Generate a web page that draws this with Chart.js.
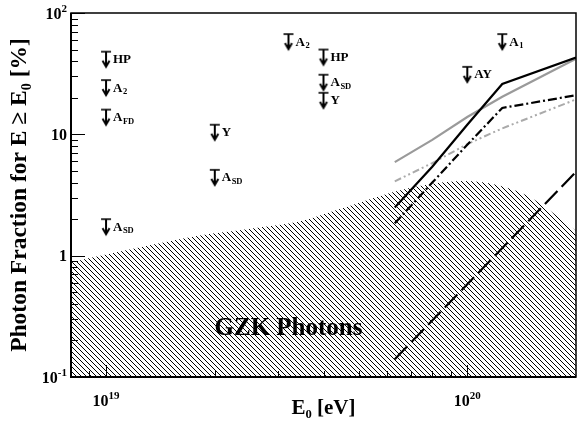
<!DOCTYPE html>
<html>
<head>
<meta charset="utf-8">
<script src="https://cdn.jsdelivr.net/npm/chart.js@4"></script>
<style>
  html, body { margin: 0; padding: 0; background: #fff; }
</style>
</head>
<body>
<canvas id="photonChart" width="583" height="421"></canvas>
<script>
// upper limits on the photon fraction (bar = limit, arrow points down)
const limitEnergy   = [1e19, 1e19, 1e19, 1e19, 2e19, 2e19, 3.2e19, 4e19, 4e19, 4e19, 1e20, 1.25e20];
const limitFraction = [48, 28, 16, 2.0, 12, 5.1, 67, 50, 31, 22, 36, 67];
const limitName     = ['HP', 'A', 'A', 'A', 'Y', 'A', 'A', 'HP', 'A', 'Y', 'AY', 'A'];
const limitSub      = ['', '2', 'FD', 'SD', '', 'SD', '2', '', 'SD', '', '', '1'];

// top-down model predictions
const modelEnergy   = [6.3e19, 8e19, 1e20, 1.25e20, 2e20];
const solidBlack    = [2.5, 5.4, 12, 26, 43];
const dashDotBlack  = [1.85, 4.0, 8.2, 16.5, 21];
const solidGray     = [5.9, 9.0, 13.9, 20.4, 42];
const dashDotGray   = [4.1, 5.8, 8.3, 11.2, 19.4];
const longDashEnergy = [6.3e19, 2e20];
const longDashBlack  = [0.14, 4.9];

// GZK photon band (upper edge)
const gzkEnergy   = [8e18, 1e19, 1.31e19, 1.8e19, 2.48e19, 3.4e19, 4.2e19, 5.1e19, 6.4e19, 7.9e19, 9.8e19, 1.21e20, 1.49e20, 1.71e20, 2e20];
const gzkFraction = [0.88, 1.02, 1.21, 1.46, 1.66, 1.90, 2.30, 2.77, 3.41, 3.89, 4.12, 3.82, 3.05, 2.30, 1.60];

// axis ticks: mantissa + exponent
const xTickValues = [1e19, 1e20];
const xTickBase   = ['10', '10'];
const xTickExp    = ['19', '20'];
const yTickValues = [0.1, 1, 10, 100];
const yTickBase   = ['10', '1', '10', '10'];
const yTickExp    = ['-1', '', '', '2'];

const SERIF = '"Liberation Serif", "Times New Roman", serif';
Chart.defaults.font.family = SERIF;
Chart.defaults.color = '#000';

const pts = (xs, ys) => xs.map((x, i) => ({ x: x, y: ys[i] }));

const canvas = document.getElementById('photonChart');
const ctx = canvas.getContext('2d');

function hatchPattern() {
  const n = 5;
  const tile = document.createElement('canvas');
  tile.width = n; tile.height = n;
  const g = tile.getContext('2d');
  g.fillStyle = '#000';
  for (let i = 0; i < n; i++) g.fillRect(i, i, 1, 1);
  return ctx.createPattern(tile, 'repeat');
}

function arrowGlyph() {
  const c = document.createElement('canvas');
  c.width = 14; c.height = 36;
  const g = c.getContext('2d');
  g.strokeStyle = '#000';
  g.lineWidth = 1.6;
  g.beginPath(); g.moveTo(2, 18); g.lineTo(12, 18); g.stroke();
  g.lineWidth = 2;
  g.beginPath(); g.moveTo(7, 18); g.lineTo(7, 33); g.stroke();
  g.beginPath(); g.moveTo(3.5, 27); g.lineTo(7, 33); g.lineTo(10.5, 27); g.stroke();
  return c;
}

function minorTicks(min, max) {
  const out = [];
  for (let d = 1e-2; d <= 1e21; d *= 10) {
    for (let m = 2; m <= 9; m++) {
      const v = m * d;
      if (v > min * 1.0001 && v < max * 0.9999) out.push(v);
    }
  }
  return out;
}

// frame, inward ticks and power-of-ten labels
const frameTicks = {
  id: 'frameTicks',
  afterDatasetsDraw(chart) {
    const { ctx, chartArea: a, scales: { x, y } } = chart;
    ctx.save();
    ctx.strokeStyle = '#000';
    ctx.lineWidth = 1;
    ctx.beginPath();
    minorTicks(x.min, x.max).forEach(v => {
      const px = Math.round(x.getPixelForValue(v)) + 0.5;
      ctx.moveTo(px, a.bottom); ctx.lineTo(px, a.bottom - 6);
    });
    xTickValues.forEach(v => {
      const px = Math.round(x.getPixelForValue(v)) + 0.5;
      ctx.moveTo(px, a.bottom); ctx.lineTo(px, a.bottom - 12);
    });
    minorTicks(y.min, y.max).forEach(v => {
      const py = Math.round(y.getPixelForValue(v)) + 0.5;
      ctx.moveTo(a.left, py); ctx.lineTo(a.left + 7, py);
    });
    yTickValues.forEach(v => {
      const py = Math.round(y.getPixelForValue(v)) + 0.5;
      ctx.moveTo(a.left, py); ctx.lineTo(a.left + 14, py);
    });
    ctx.stroke();
    ctx.lineWidth = 1.5;
    ctx.strokeRect(a.left, a.top, a.right - a.left, a.bottom - a.top);
    ctx.lineWidth = 2;
    ctx.beginPath();
    ctx.moveTo(a.left, a.top); ctx.lineTo(a.left, a.bottom); ctx.lineTo(a.right, a.bottom);
    ctx.stroke();

    const baseFont = 'bold 16px ' + SERIF;
    const expFont = 'bold 11px ' + SERIF;
    ctx.fillStyle = '#000';
    ctx.textBaseline = 'alphabetic';
    ctx.textAlign = 'left';
    // y labels, right edge at 4px from the axis
    yTickValues.forEach((v, i) => {
      const py = y.getPixelForValue(v);
      ctx.font = expFont;
      const we = yTickExp[i] ? ctx.measureText(yTickExp[i]).width : 0;
      ctx.font = baseFont;
      const wb = ctx.measureText(yTickBase[i]).width;
      const x0 = a.left - 4 - we - wb;
      ctx.fillText(yTickBase[i], x0, py + 5.5);
      if (yTickExp[i]) {
        ctx.font = expFont;
        ctx.fillText(yTickExp[i], x0 + wb, py - 1.5);
      }
    });
    // x labels, centred under the tick
    xTickValues.forEach((v, i) => {
      const px = x.getPixelForValue(v);
      ctx.font = expFont;
      const we = ctx.measureText(xTickExp[i]).width;
      ctx.font = baseFont;
      const wb = ctx.measureText(xTickBase[i]).width;
      const x0 = px - (wb + we) / 2;
      ctx.fillText(xTickBase[i], x0, a.bottom + 29);
      ctx.font = expFont;
      ctx.fillText(xTickExp[i], x0 + wb, a.bottom + 22);
    });
    ctx.restore();
  }
};

// experiment names beside the limit arrows, and the band label
const annotations = {
  id: 'annotations',
  afterDatasetsDraw(chart) {
    const { ctx, scales: { x, y } } = chart;
    ctx.save();
    ctx.fillStyle = '#000';
    ctx.textAlign = 'left';
    ctx.textBaseline = 'alphabetic';
    chart.getDatasetMeta(0).data.forEach((pt, i) => {
      const tx = pt.x + 7;
      const ty = pt.y + 11.5;
      ctx.font = 'bold 13px ' + SERIF;
      ctx.fillText(limitName[i], tx, ty);
      if (limitSub[i]) {
        const w = ctx.measureText(limitName[i]).width;
        ctx.font = 'bold 8.5px ' + SERIF;
        ctx.fillText(limitSub[i], tx + w + 0.5, ty + 2.5);
      }
    });
    ctx.font = 'bold 25px ' + SERIF;
    ctx.textAlign = 'center';
    ctx.textBaseline = 'middle';
    ctx.fillText('GZK Photons', x.getPixelForValue(3.2e19), y.getPixelForValue(0.25));
    ctx.restore();
  }
};

new Chart(ctx, {
  type: 'line',
  data: {
    datasets: [
      {
        data: pts(limitEnergy, limitFraction),
        showLine: false,
        pointStyle: arrowGlyph(),
        pointRadius: 6,
        pointHoverRadius: 6
      },
      {
        data: pts(modelEnergy, solidBlack),
        borderColor: '#000', borderWidth: 2.2, pointRadius: 0, fill: false
      },
      {
        data: pts(modelEnergy, dashDotBlack),
        borderColor: '#000', borderWidth: 2.2, borderDash: [9, 3, 2, 3], pointRadius: 0, fill: false
      },
      {
        data: pts(modelEnergy, solidGray),
        borderColor: '#9a9a9a', borderWidth: 2.2, pointRadius: 0, fill: false
      },
      {
        data: pts(modelEnergy, dashDotGray),
        borderColor: '#aaaaaa', borderWidth: 2, borderDash: [7, 3, 2, 3, 2, 3], pointRadius: 0, fill: false
      },
      {
        data: pts(longDashEnergy, longDashBlack),
        borderColor: '#000', borderWidth: 2.2, borderDash: [18, 6], pointRadius: 0, fill: false
      },
      {
        data: pts(gzkEnergy, gzkFraction),
        borderWidth: 0, borderColor: 'rgba(0,0,0,0)',
        backgroundColor: hatchPattern(),
        fill: 'start',
        cubicInterpolationMode: 'monotone',
        pointRadius: 0
      }
    ]
  },
  options: {
    responsive: false,
    animation: false,
    layout: { padding: { top: 13, right: 3, left: 0, bottom: 0 } },
    plugins: { legend: { display: false }, tooltip: { enabled: false } },
    scales: {
      x: {
        type: 'logarithmic',
        min: 8e18, max: 2e20,
        grid: { display: false, drawTicks: false },
        border: { display: false },
        afterBuildTicks: s => { s.ticks = xTickValues.map(v => ({ value: v })); },
        afterFit: s => { s.height = 44; },
        ticks: { display: false },
        title: {
          display: true, text: 'E\u2080 [eV]',
          font: { size: 21, weight: 'bold' },
          padding: { top: 0, bottom: 0 }
        }
      },
      y: {
        type: 'logarithmic',
        min: 0.1, max: 100,
        grid: { display: false, drawTicks: false },
        border: { display: false },
        afterBuildTicks: s => { s.ticks = yTickValues.map(v => ({ value: v })); },
        afterFit: s => { s.width = 71; },
        ticks: { display: false },
        title: {
          display: true, text: 'Photon Fraction for E \u2265 E\u2080 [%]',
          font: { size: 23.5, weight: 'bold' },
          padding: { top: 6, bottom: 0 }
        }
      }
    }
  },
  plugins: [frameTicks, annotations]
});
</script>
</body>
</html>
